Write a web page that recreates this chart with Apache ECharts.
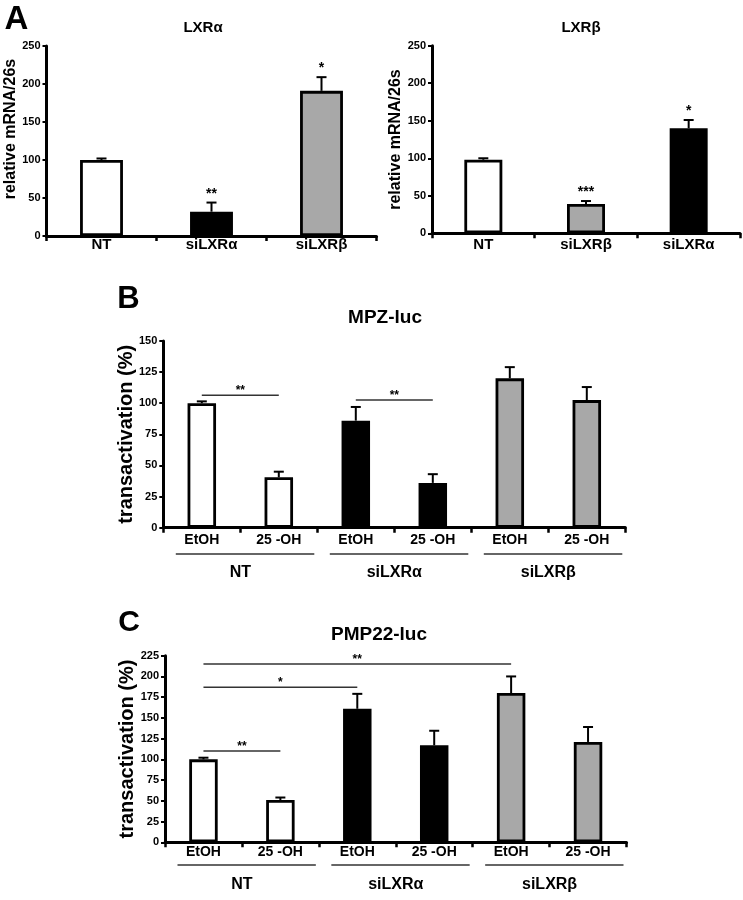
<!DOCTYPE html>
<html><head><meta charset="utf-8">
<script src="https://cdn.jsdelivr.net/npm/echarts@6/dist/echarts.min.js"></script>
<style>html,body{margin:0;padding:0;background:#fff}#c{width:743px;height:900px}</style>
</head><body><div id="c"></div><script>
// ---------- data ----------
const catsA1 = ['NT', 'siLXRα', 'siLXRβ'];
const valsA1 = [100, 32, 191];
const errA1 = [102, 44, 209];
const starsA1 = ['', '**', '*'];
const yTicksA = [0, 50, 100, 150, 200, 250];

const catsA2 = ['NT', 'siLXRβ', 'siLXRα'];
const valsA2 = [98, 39, 140];
const errA2 = [100, 43, 151];
const starsA2 = ['', '***', '*'];

const groupsBC = ['NT', 'siLXRα', 'siLXRβ'];
const treatments = ['EtOH', '25 -OH'];
const groupSpans = [[0, 1], [2, 3], [4, 5]];

const valsB = [100, 40.5, 86, 36, 120, 102.5];
const errB = [101.5, 45, 97, 43, 129, 113];
const sigB = [[0, 1, 106.5, '**'], [2, 3, 102.5, '**']];
const yTicksB = [0, 25, 50, 75, 100, 125, 150];

const valsC = [100, 51, 161, 117, 180, 121];
const errC = [102, 54, 179, 134.5, 200, 139];
const sigC = [[0, 4, 215, '**'], [0, 2, 187, '*'], [0, 1, 110, '**']];
const yTicksC = [0, 25, 50, 75, 100, 125, 150, 175, 200, 225];

// ---------- styles ----------
const FONT = "'Liberation Sans', Arial, sans-serif";
const fillOf = { 'NT': '#ffffff', 'siLXRα': '#000000', 'siLXRβ': '#a8a8a8' };
const catsBC = groupsBC.flatMap(g => treatments.map(t => g + '|' + t));

function yAxisCfg(gi, ticks, name, gap, nameSize, labelSize, namePad, noMove) {
  const cfg = {
    type: 'value', gridIndex: gi, min: ticks[0], max: ticks[ticks.length - 1],
    interval: ticks[1] - ticks[0],
    name: name, nameLocation: 'middle', nameGap: gap,
    nameTextStyle: { fontFamily: FONT, fontWeight: 'bold', fontSize: nameSize, color: '#000', padding: namePad || 0 },
    axisLine: { show: true, lineStyle: { color: '#000', width: 3 } },
    axisTick: { show: true, length: 4, lineStyle: { color: '#000', width: 2 } },
    axisLabel: { fontFamily: FONT, fontWeight: 'bold', fontSize: labelSize, color: '#000', margin: 6 },
    splitLine: { show: false }
  };
  if (noMove) cfg.nameMoveOverlap = false;
  return cfg;
}
function xAxisCfg(gi, cats, margin, size, fmt) {
  return {
    type: 'category', gridIndex: gi, data: cats,
    axisLine: { show: true, lineStyle: { color: '#000', width: 3 } },
    axisTick: { show: true, length: 5, lineStyle: { color: '#000', width: 2.5 } },
    axisLabel: { fontFamily: FONT, fontWeight: 'bold', fontSize: size, color: '#000', margin: margin, interval: 0,
      formatter: fmt || (v => v) },
    splitLine: { show: false }
  };
}
function barSeries(xi, yi, cats, vals, width, groupFn) {
  return {
    type: 'bar', xAxisIndex: xi, yAxisIndex: yi, barWidth: width, silent: true, z: 2,
    itemStyle: { borderColor: '#000', borderWidth: 2.8 },
    data: vals.map((v, i) => ({ value: v, itemStyle: { color: fillOf[groupFn(cats[i])] } }))
  };
}
function errSeries(xi, yi, vals, errs, stars, starSize) {
  return {
    type: 'custom', xAxisIndex: xi, yAxisIndex: yi, clip: false, silent: true, z: 5,
    encode: { x: 0, y: [1, 2] },
    data: vals.map((v, i) => [i, v, errs[i]]),
    renderItem(params, api) {
      const lo = api.coord([api.value(0), api.value(1)]);
      const hi = api.coord([api.value(0), api.value(2)]);
      const ch = [
        { type: 'line', shape: { x1: lo[0], y1: lo[1], x2: hi[0], y2: hi[1] }, style: { stroke: '#000', lineWidth: 2 } },
        { type: 'line', shape: { x1: hi[0] - 5, y1: hi[1], x2: hi[0] + 5, y2: hi[1] }, style: { stroke: '#000', lineWidth: 2 } }
      ];
      const s = stars ? stars[params.dataIndex] : '';
      if (s) ch.push({ type: 'text', x: hi[0], y: hi[1] - 12 + 0.23 * starSize,
        style: { text: s, fill: '#000', font: 'bold ' + starSize + 'px ' + FONT, textAlign: 'center', textVerticalAlign: 'middle' } });
      return { type: 'group', children: ch };
    }
  };
}
function sigSeries(xi, yi, sig) {
  return {
    type: 'custom', xAxisIndex: xi, yAxisIndex: yi, clip: false, silent: true, z: 6,
    encode: { x: [0, 1], y: 2 },
    data: sig.map(s => [s[0], s[1], s[2]]),
    renderItem(params, api) {
      const a = api.coord([api.value(0), api.value(2)]);
      const b = api.coord([api.value(1), api.value(2)]);
      return { type: 'group', children: [
        { type: 'line', shape: { x1: a[0], y1: a[1], x2: b[0], y2: b[1] }, style: { stroke: '#333', lineWidth: 1.5 } },
        { type: 'text', x: (a[0] + b[0]) / 2, y: a[1] - 7.5 + 0.23 * 12,
          style: { text: sig[params.dataIndex][3], fill: '#000', font: 'bold 12px ' + FONT, textAlign: 'center', textVerticalAlign: 'middle' } }
      ] };
    }
  };
}
function underlineSeries(xi, yi, offset) {
  return {
    type: 'custom', xAxisIndex: xi, yAxisIndex: yi, clip: false, silent: true, z: 6,
    encode: { x: [0, 1], y: 2 },
    data: groupSpans.map(s => [s[0], s[1], 0]),
    renderItem(params, api) {
      const band = api.size([1, 0])[0];
      const a = api.coord([api.value(0), 0]);
      const b = api.coord([api.value(1), 0]);
      return { type: 'line', shape: { x1: a[0] - band / 2 + 12.5, y1: a[1] + offset, x2: b[0] + band / 2 - 3, y2: a[1] + offset },
        style: { stroke: '#333', lineWidth: 1.5 } };
    }
  };
}
function groupAxis(gi, margin) {
  return {
    type: 'category', gridIndex: gi, data: groupsBC, position: 'bottom', offset: 0,
    axisLine: { show: false }, axisTick: { show: false }, splitLine: { show: false },
    axisLabel: { fontFamily: FONT, fontWeight: 'bold', fontSize: 16, color: '#000', margin: margin, interval: 0 }
  };
}
function txt(t, x, y, size) {
  return { type: 'text', x: x, y: y, silent: true,
    style: { text: t, fill: '#000', font: 'bold ' + size + 'px ' + FONT, textAlign: 'center', textVerticalAlign: 'middle' } };
}

const chart = echarts.init(document.getElementById('c'), null, { renderer: 'canvas' });
const sub = v => v.split('|')[1];
const grp = v => v.split('|')[0];
chart.setOption({
  animation: false,
  backgroundColor: '#fff',
  grid: [
    { left: 46.5, top: 46, width: 330, height: 190 },
    { left: 432, top: 45.7, width: 308, height: 187.6 },
    { left: 163.3, top: 341, width: 462, height: 186.7 },
    { left: 165, top: 655.7, width: 461.5, height: 186.6 }
  ],
  xAxis: [
    xAxisCfg(0, catsA1, 1, 15),
    xAxisCfg(1, catsA2, 4, 15),
    xAxisCfg(2, catsBC, 5, 14, sub),
    groupAxis(2, 37),
    xAxisCfg(3, catsBC, 3, 14, sub),
    groupAxis(3, 34)
  ],
  yAxis: [
    yAxisCfg(0, yTicksA, 'relative mRNA/26s', 26, 16, 11, [0, 0, 0, 24]),
    yAxisCfg(1, yTicksA, 'relative mRNA/26s', 25, 16, 11),
    yAxisCfg(2, yTicksB, 'transactivation (%)', 27, 20, 11, 0, true),
    yAxisCfg(3, yTicksC, 'transactivation (%)', 28, 20, 11, 0, true)
  ],
  series: [
    barSeries(0, 0, catsA1, valsA1, '39%', v => v),
    errSeries(0, 0, valsA1, errA1, starsA1, 14),
    barSeries(1, 1, catsA2, valsA2, '37%', v => v),
    errSeries(1, 1, valsA2, errA2, starsA2, 14),
    barSeries(2, 2, catsBC, valsB, '37%', grp),
    errSeries(2, 2, valsB, errB, null, 12),
    sigSeries(2, 2, sigB),
    underlineSeries(2, 2, 26.3),
    barSeries(4, 3, catsBC, valsC, '37%', grp),
    errSeries(4, 3, valsC, errC, null, 12),
    sigSeries(4, 3, sigC),
    underlineSeries(4, 3, 22.7)
  ],
  graphic: [
    txt('A', 16.5, 20, 33),
    txt('LXRα', 203, 28, 15),
    txt('LXRβ', 581, 28, 15),
    txt('B', 128.5, 299, 31),
    txt('MPZ-luc', 385, 318, 19),
    txt('C', 129, 623, 30),
    txt('PMP22-luc', 379, 635, 19)
  ]
});
</script></body></html>
